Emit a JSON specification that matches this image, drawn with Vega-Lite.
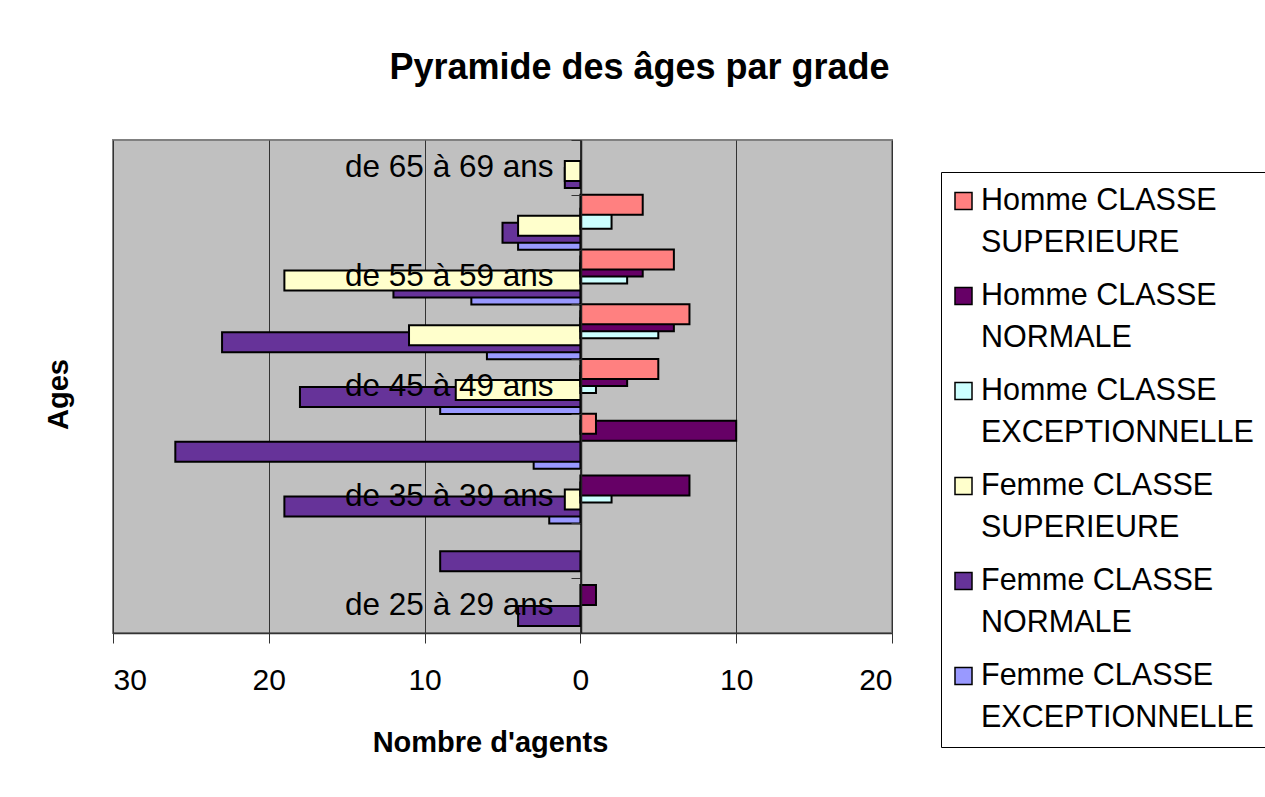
{
  "$schema": "https://vega.github.io/schema/vega-lite/v6.json",
  "width": 779,
  "height": 493,
  "autosize": {"type": "none"},
  "padding": {"left": 113, "top": 140, "right": 373, "bottom": 164},
  "background": "white",
  "title": {
    "text": "Pyramide des âges par grade",
    "font": "Liberation Sans",
    "fontSize": 36,
    "fontWeight": "bold",
    "color": "black",
    "anchor": "middle",
    "frame": "group",
    "dx": 137,
    "baseline": "alphabetic",
    "offset": 9
  },
  "config": {
    "view": {"fill": "#C0C0C0", "stroke": "#808080", "strokeWidth": 2},
    "style": {"guide-label": {"lineHeight": 42}}
  },
  "data": {
    "values": [
      {"age": "de 60 à 64 ans", "serie": "Femme  CLASSE EXCEPTIONNELLE", "n": -4},
      {"age": "de 55 à 59 ans", "serie": "Femme  CLASSE EXCEPTIONNELLE", "n": -7},
      {"age": "de 50 à 54 ans", "serie": "Femme  CLASSE EXCEPTIONNELLE", "n": -6},
      {"age": "de 45 à 49 ans", "serie": "Femme  CLASSE EXCEPTIONNELLE", "n": -9},
      {"age": "de 40 à 44 ans", "serie": "Femme  CLASSE EXCEPTIONNELLE", "n": -3},
      {"age": "de 35 à 39 ans", "serie": "Femme  CLASSE EXCEPTIONNELLE", "n": -2},
      {"age": "de 65 à 69 ans", "serie": "Femme CLASSE NORMALE", "n": -1},
      {"age": "de 60 à 64 ans", "serie": "Femme CLASSE NORMALE", "n": -5},
      {"age": "de 55 à 59 ans", "serie": "Femme CLASSE NORMALE", "n": -12},
      {"age": "de 50 à 54 ans", "serie": "Femme CLASSE NORMALE", "n": -23},
      {"age": "de 45 à 49 ans", "serie": "Femme CLASSE NORMALE", "n": -18},
      {"age": "de 40 à 44 ans", "serie": "Femme CLASSE NORMALE", "n": -26},
      {"age": "de 35 à 39 ans", "serie": "Femme CLASSE NORMALE", "n": -19},
      {"age": "de 30 à 34 ans", "serie": "Femme CLASSE NORMALE", "n": -9},
      {"age": "de 25 à 29 ans", "serie": "Femme CLASSE NORMALE", "n": -4},
      {"age": "de 65 à 69 ans", "serie": "Femme CLASSE SUPERIEURE", "n": -1},
      {"age": "de 60 à 64 ans", "serie": "Femme CLASSE SUPERIEURE", "n": -4},
      {"age": "de 55 à 59 ans", "serie": "Femme CLASSE SUPERIEURE", "n": -19},
      {"age": "de 50 à 54 ans", "serie": "Femme CLASSE SUPERIEURE", "n": -11},
      {"age": "de 45 à 49 ans", "serie": "Femme CLASSE SUPERIEURE", "n": -8},
      {"age": "de 35 à 39 ans", "serie": "Femme CLASSE SUPERIEURE", "n": -1},
      {"age": "de 60 à 64 ans", "serie": "Homme CLASSE EXCEPTIONNELLE", "n": 2},
      {"age": "de 55 à 59 ans", "serie": "Homme CLASSE EXCEPTIONNELLE", "n": 3},
      {"age": "de 50 à 54 ans", "serie": "Homme CLASSE EXCEPTIONNELLE", "n": 5},
      {"age": "de 45 à 49 ans", "serie": "Homme CLASSE EXCEPTIONNELLE", "n": 1},
      {"age": "de 35 à 39 ans", "serie": "Homme CLASSE EXCEPTIONNELLE", "n": 2},
      {"age": "de 55 à 59 ans", "serie": "Homme CLASSE NORMALE", "n": 4},
      {"age": "de 50 à 54 ans", "serie": "Homme CLASSE NORMALE", "n": 6},
      {"age": "de 45 à 49 ans", "serie": "Homme CLASSE NORMALE", "n": 3},
      {"age": "de 40 à 44 ans", "serie": "Homme CLASSE NORMALE", "n": 10},
      {"age": "de 35 à 39 ans", "serie": "Homme CLASSE NORMALE", "n": 7},
      {"age": "de 25 à 29 ans", "serie": "Homme CLASSE NORMALE", "n": 1},
      {"age": "de 60 à 64 ans", "serie": "Homme CLASSE SUPERIEURE", "n": 4},
      {"age": "de 55 à 59 ans", "serie": "Homme CLASSE SUPERIEURE", "n": 6},
      {"age": "de 50 à 54 ans", "serie": "Homme CLASSE SUPERIEURE", "n": 7},
      {"age": "de 45 à 49 ans", "serie": "Homme CLASSE SUPERIEURE", "n": 5},
      {"age": "de 40 à 44 ans", "serie": "Homme CLASSE SUPERIEURE", "n": 1}
    ]
  },
  "mark": {"type": "bar", "height": 20, "stroke": "black", "strokeWidth": 2, "opacity": 1},
  "encoding": {
    "y": {
      "field": "age",
      "type": "nominal",
      "sort": null,
      "scale": {
        "domain": ["de 65 à 69 ans", "de 60 à 64 ans", "de 55 à 59 ans", "de 50 à 54 ans", "de 45 à 49 ans", "de 40 à 44 ans", "de 35 à 39 ans", "de 30 à 34 ans", "de 25 à 29 ans"],
        "paddingInner": 0,
        "paddingOuter": 0
      },
      "axis": {
        "title": "Ages",
        "orient": "left",
        "offset": -468,
        "zindex": 1,
        "tickBand": "extent",
        "tickSize": 10,
        "tickColor": "#333333",
        "domainColor": "#222222",
        "domainWidth": 1.5,
        "labelPadding": 18,
        "labelFont": "Liberation Sans",
        "labelFontSize": 31.5,
        "labelColor": "black",
        "labelLimit": 400,
        "labelExpr": "indexof(datum.label, '5 à') >= 0 ? datum.label : ''",
        "titleFont": "Liberation Sans",
        "titleFontSize": 29,
        "titleFontWeight": "bold",
        "titleColor": "black",
        "titleAngle": -90,
        "titleAlign": "center",
        "titleBaseline": "middle",
        "titleX": -523,
        "titleY": 254
      }
    },
    "yOffset": {
      "field": "serie",
      "type": "nominal",
      "scale": {
        "domain": ["Homme CLASSE SUPERIEURE", "Homme CLASSE NORMALE", "Homme CLASSE EXCEPTIONNELLE", "Femme CLASSE SUPERIEURE", "Femme CLASSE NORMALE", "Femme  CLASSE EXCEPTIONNELLE"],
        "paddingInner": 0,
        "paddingOuter": 0.914
      }
    },
    "x": {
      "field": "n",
      "type": "quantitative",
      "stack": null,
      "scale": {"domain": [-30, 20], "nice": false},
      "axis": {
        "title": "Nombre d'agents",
        "values": [-30, -20, -10, 0, 10, 20],
        "labelExpr": "format(abs(datum.value), 'd')",
        "grid": true,
        "gridColor": "#333333",
        "gridWidth": 1,
        "tickSize": 10,
        "tickColor": "#333333",
        "domainColor": "#333333",
        "domainWidth": 1.5,
        "labelPadding": 22,
        "labelFont": "Liberation Sans",
        "labelFontSize": 30,
        "labelColor": "black",
        "titleFont": "Liberation Sans",
        "titleFontSize": 29,
        "titleFontWeight": "bold",
        "titleColor": "black",
        "titlePadding": 33,
        "titleX": 377
      }
    },
    "color": {
      "field": "serie",
      "type": "nominal",
      "scale": {
        "domain": ["Homme CLASSE SUPERIEURE", "Homme CLASSE NORMALE", "Homme CLASSE EXCEPTIONNELLE", "Femme CLASSE SUPERIEURE", "Femme CLASSE NORMALE", "Femme  CLASSE EXCEPTIONNELLE"],
        "range": ["#FF8080", "#660066", "#CCFFFF", "#FFFFCC", "#663399", "#9999FF"]
      },
      "legend": {
        "title": null,
        "orient": "none",
        "legendX": 828,
        "legendY": 32,
        "padding": 14,
        "fillColor": "white",
        "strokeColor": "black",
        "symbolType": "M-0.378,-0.756H0.378V0H-0.378Z",
        "symbolSize": 2025,
        "symbolOffset": -15,
        "symbolStrokeColor": "black",
        "symbolStrokeWidth": 1.5,
        "symbolOpacity": 1,
        "labelFont": "Liberation Sans",
        "labelFontSize": 30.5,
        "labelColor": "black",
        "labelLimit": 400,
        "labelOffset": -6,
        "labelBaseline": "alphabetic",
        "rowPadding": 22,
        "labelExpr": "[substring(datum.label, 0, indexof(datum.label, 'CLASSE') + 6), substring(datum.label, indexof(datum.label, 'CLASSE') + 7)]"
      }
    }
  }
}
